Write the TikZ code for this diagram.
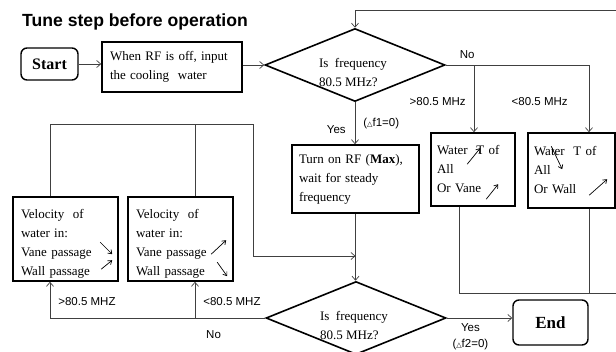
\documentclass[tikz,border=0pt]{standalone}
\usepackage{fontspec}
\setmainfont{Liberation Serif}
\setsansfont{Liberation Sans}
\newfontfamily\symfont{DejaVu Sans}
\usetikzlibrary{
    arrows.meta,
    shapes.geometric,
    calc
}
\newcommand{\dtri}{{\symfont\fontsize{7}{7}\selectfont △}}

\begin{document}
\begin{tikzpicture}[
    x=1pt, y=-1pt,
    box/.style={
        rectangle,
        draw=black,
        line width=1.6pt,
        align=left,
        inner ysep=0pt,
        font=\fontsize{13}{19}\selectfont
    },
    term/.style={
        rectangle,
        rounded corners=6pt,
        draw=black,
        line width=1.4pt,
        font=\fontsize{16}{16}\selectfont\bfseries
    },
    decide/.style={
        diamond,
        draw=black,
        line width=1.6pt,
        minimum width=180pt,
        minimum height=73pt,
        inner sep=0pt
    },
    qtext/.style={
        align=left,
        inner sep=0pt,
        font=\fontsize{13}{19}\selectfont
    },
    line/.style={
        draw=black!75,
        line width=0.7pt
    },
    arrow/.style={
        line,
        -{Straight Barb[length=4pt,width=7pt]}
    },
    lbl/.style={
        font=\sffamily\fontsize{11.5}{16}\selectfont,
        inner sep=1pt
    },
    trend/.style={
        line width=0.7pt,
        -{Straight Barb[length=3.5pt,width=5pt]}
    }
]
\useasboundingbox (0,0) rectangle (616,351);

% =========================================================
% Title and start
% =========================================================
\node[font=\sffamily\bfseries\fontsize{17.6}{18}\selectfont, anchor=base west, inner sep=0pt] (title) at (22,26)
{Tune step before operation};

\node[term, minimum width=57pt, minimum height=32pt] (start) at (49.5,64) {Start};

\node[box, inner xsep=8pt, text width=124pt, minimum height=50pt] (cool) at (172,67)
{When RF is off, input\\the cooling\ \ water};

% =========================================================
% First frequency check
% =========================================================
\node[decide] (chk1) at (355,65) {};
\node[qtext] (chk1q) at (353,73) {Is\ \ frequency\\80.5 MHz?};

\node[box, inner xsep=7pt, text width=113pt, minimum height=68pt] (rfon) at (355.5,179)
{Turn on RF (\textbf{Max}),\\wait for steady\\frequency};

\node[box, inner xsep=6pt, text width=72pt, minimum height=73pt] (wtA) at (473,169.5)
{Water\ \ T of\\All\\Or Vane};

\node[box, inner xsep=6pt, text width=75pt, minimum height=75pt] (wtB) at (571.5,170.5)
{Water\ \ T of\\All\\Or Wall};

% =========================================================
% Velocity boxes
% =========================================================
\node[box, inner xsep=8pt, text width=89pt, minimum height=84pt] (velA) at (65.5,239)
{\rule{0pt}{19pt}Velocity\ \ of\\water in:\\Vane passage\\Wall passage};

\node[box, inner xsep=8pt, text width=89pt, minimum height=84pt] (velB) at (180.5,239)
{\rule{0pt}{19pt}Velocity\ \ of\\water in:\\Vane passage\\Wall passage};

% =========================================================
% Second frequency check and end
% =========================================================
\node[decide] (chk2) at (356,318) {};
\node[qtext] (chk2q) at (354,326) {Is\ \ frequency\\80.5 MHz?};

\node[term, minimum width=75pt, minimum height=45pt, font=\fontsize{17}{17}\selectfont\bfseries] (endn) at (550.5,322.5) {End};

% =========================================================
% Trend arrows inside the boxes
% =========================================================
\draw[trend] ($(wtA.north west)+(37,32)$) -- ($(wtA.north west)+(50,16)$);
\draw[trend] ($(wtA.north west)+(56,67)$) -- ($(wtA.north west)+(68,52)$);
\draw[trend] ($(wtB.north west)+(24,14)$) -- ($(wtB.north west)+(35,37)$);
\draw[trend] ($(wtB.north west)+(62,63)$) -- ($(wtB.north west)+(80,47)$);

\draw[trend] ($(velA.north west)+(88,46)$) -- ($(velA.north west)+(100,58)$);
\draw[trend] ($(velA.north west)+(89,73)$) -- ($(velA.north west)+(100,64)$);
\draw[trend] ($(velB.north west)+(84,58)$) -- ($(velB.north west)+(99,44)$);
\draw[trend] ($(velB.north west)+(90,66)$) -- ($(velB.north west)+(100,80)$);

% =========================================================
% Main flow
% =========================================================
\draw[arrow] (start.east) -- (start.east -| cool.west);
\draw[arrow] (chk1.west -| cool.east) -- (chk1.west);

\draw[arrow] (chk1.south) -- node[lbl, left=8pt, pos=0.65] {Yes}
    node[lbl, right=7pt, pos=0.5] {(\dtri f1=0)} (chk1.south |- rfon.north);
\draw[arrow] (rfon.south) -- (rfon.south |- chk2.north);

\draw[arrow] (chk2.east) -- node[lbl, below=4pt, pos=0.36, align=center] {Yes\\(\dtri f2=0)} (chk2.east -| endn.west);

% =========================================================
% First check: No branch and return loop
% =========================================================
\coordinate (dropA) at (474,65);
\coordinate (dropB) at (589,65);
\coordinate (joinA) at (459,293);
\coordinate (retB) at (620,293);
\coordinate (retT) at (620,10);

\draw[line] (chk1.east) -- node[lbl, above=5pt, pos=0.15] {No} (dropB);
\draw[arrow] (dropA) -- node[lbl, left=7pt, pos=0.54] {>80.5 MHz} (dropA |- wtA.north);
\draw[arrow] (dropB) -- node[lbl, left=20pt, pos=0.54] {<80.5 MHz} (dropB |- wtB.north);

\draw[arrow] (joinA |- wtA.south) -- (joinA) -- (retB) -- (retT) -| (chk1.north);
\draw[line] (dropB |- wtB.south) -- (dropB |- joinA);

% =========================================================
% Second check: No branch and velocity loop
% =========================================================
\coordinate (colA) at (50,124);
\coordinate (colB) at (195,124);
\coordinate (mergeT) at (253,124);
\coordinate (mergeB) at (253,256);

\draw[arrow] (chk2.west) -| node[lbl, below=11pt, pos=0.12] {No}
    node[lbl, right=7pt, pos=0.73] {>80.5 MHZ} (colA |- velA.south);
\draw[arrow] (colB |- chk2.west) -- node[lbl, right=7pt, pos=0.46] {<80.5 MHZ} (colB |- velB.south);

\draw[arrow] (colA |- velA.north) -- (colA) -- (mergeT) -- (mergeB) -- (mergeB -| rfon.south);
\draw[line] (colB |- velB.north) -- (colB);

\end{tikzpicture}
\end{document}
